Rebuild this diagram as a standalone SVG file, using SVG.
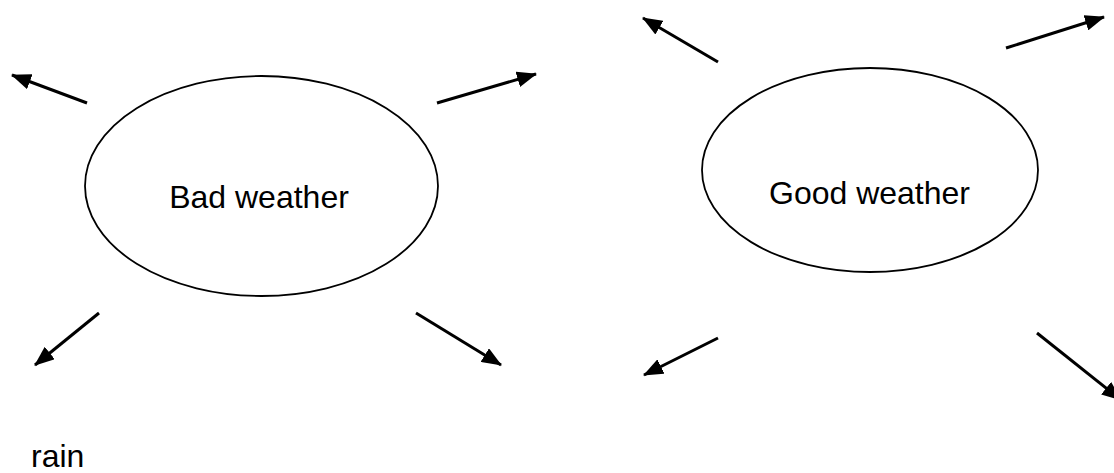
<svg xmlns="http://www.w3.org/2000/svg" width="1114" height="473" viewBox="0 0 1114 473">
<style>
.node{fill:none;stroke:#000;stroke-width:1.8}
.lbl{font-family:"Liberation Sans",Arial,sans-serif;font-size:32px;fill:#000}
.arr{stroke:#000;stroke-width:3;fill:none;marker-end:url(#ah)}
</style>
<defs>
<marker id="ah" markerUnits="userSpaceOnUse" markerWidth="20" markerHeight="16" refX="19" refY="8" orient="auto">
<path d="M0,0 L20,8 L0,16 z" fill="#000"/>
</marker>
</defs>
<rect width="1114" height="473" fill="#fff"/>
<g id="bad">
<ellipse class="node" cx="261.5" cy="186" rx="176.5" ry="110"/>
<text class="lbl" x="259" y="208" text-anchor="middle">Bad weather</text>
</g>
<g id="good">
<ellipse class="node" cx="870" cy="170" rx="168" ry="102"/>
<text class="lbl" x="869.5" y="204" text-anchor="middle">Good weather</text>
</g>
<g id="rain">
<text class="lbl" x="31" y="467">rain</text>
</g>
<g id="connectors">
<line class="arr" x1="87" y1="103" x2="12" y2="75"/>
<line class="arr" x1="437" y1="103" x2="536" y2="74"/>
<line class="arr" x1="99" y1="313" x2="35" y2="365"/>
<line class="arr" x1="416" y1="313" x2="501" y2="365"/>
<line class="arr" x1="718" y1="62" x2="643" y2="18"/>
<line class="arr" x1="1006" y1="48" x2="1104" y2="17"/>
<line class="arr" x1="718" y1="338" x2="644" y2="375"/>
<line class="arr" x1="1037" y1="333" x2="1121" y2="400"/>
</g>
</svg>
